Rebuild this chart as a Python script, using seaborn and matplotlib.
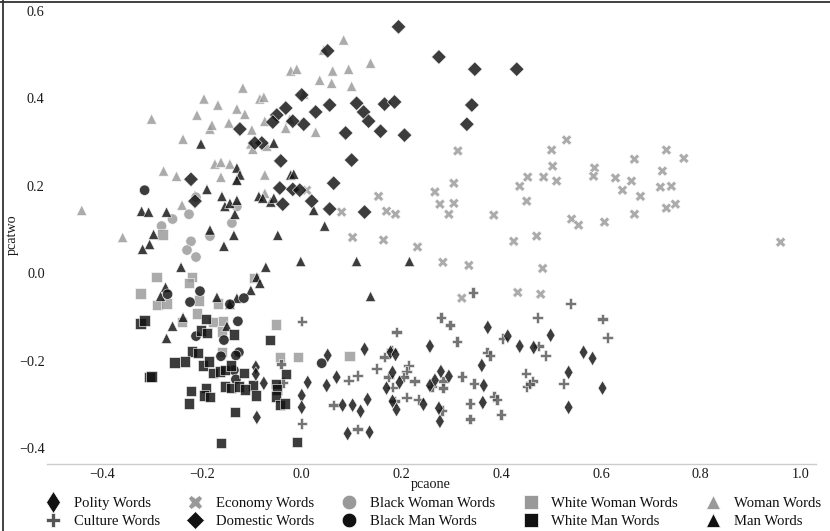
import matplotlib
matplotlib.use("Agg")
import matplotlib.pyplot as plt
from matplotlib.lines import Line2D
import numpy as np
import pandas as pd
import seaborn as sns

# ---------------- data ----------------
group_names = ["Polity Words", "Culture Words", "Economy Words", "Domestic Words",
               "Black Woman Words", "Black Man Words", "White Woman Words",
               "White Man Words", "Woman Words", "Man Words"]

polity_x = [0.052, 0.126, 0.012, 0.050, 0.070, 0.000, 0.000, 0.082, 0.102, 0.118, 0.132, 0.092,
            0.136, 0.178, 0.188, 0.182, 0.170, 0.196, 0.190, 0.182, 0.257, 0.279, 0.267, 0.295,
            0.257, 0.244, 0.277, 0.275, 0.373, 0.413, 0.437, 0.465, 0.499, 0.361, 0.365, 0.363,
            0.565, 0.583, 0.535, 0.603, 0.535, -0.092, -0.092, -0.076, -0.090]
polity_y = [-0.188, -0.174, -0.250, -0.257, -0.238, -0.280, -0.307, -0.302, -0.302, -0.316, -0.289,
            -0.367, -0.364, -0.181, -0.186, -0.227, -0.263, -0.250, -0.312, -0.293, -0.167, -0.225,
            -0.245, -0.236, -0.257, -0.300, -0.339, -0.309, -0.124, -0.144, -0.167, -0.170, -0.142,
            -0.211, -0.257, -0.296, -0.181, -0.195, -0.227, -0.263, -0.307, -0.215, -0.231, -0.252,
            -0.330]

culture_x = [0.000, 0.190, 0.279, 0.297, 0.311, 0.343, 0.166, 0.180, 0.150, 0.112, 0.094, 0.064,
             0.112, 0.000, 0.174, 0.214, 0.210, 0.204, 0.182, 0.226, 0.210, 0.234, 0.186, 0.283,
             0.283, 0.261, 0.321, 0.345, 0.337, 0.337, 0.281, -0.042, -0.038, 0.539, 0.473, 0.603,
             0.613, 0.403, 0.371, 0.377, 0.475, 0.489, 0.449, 0.451, 0.463, 0.457, 0.525, 0.385,
             0.391, 0.399]
culture_y = [-0.110, -0.135, -0.101, -0.119, -0.156, -0.044, -0.192, -0.176, -0.218, -0.234, -0.245,
             -0.302, -0.357, -0.344, -0.238, -0.211, -0.225, -0.238, -0.261, -0.247, -0.284, -0.289,
             -0.293, -0.247, -0.263, -0.259, -0.236, -0.252, -0.298, -0.334, -0.314, -0.208, -0.250,
             -0.069, -0.101, -0.105, -0.147, -0.149, -0.181, -0.188, -0.167, -0.188, -0.229, -0.259,
             -0.247, -0.254, -0.252, -0.282, -0.289, -0.323]

economy_x = [0.010, 0.080, 0.102, 0.154, 0.170, 0.188, 0.164, 0.232, 0.267, 0.277, 0.295, 0.305,
             0.305, 0.313, 0.385, 0.425, 0.471, 0.437, 0.453, 0.485, 0.451, 0.501, 0.531, 0.503,
             0.511, 0.541, 0.555, 0.607, 0.587, 0.585, 0.629, 0.661, 0.643, 0.667, 0.679, 0.667,
             0.731, 0.766, 0.723, 0.719, 0.741, 0.731, 0.749, 0.960, 0.483, 0.433, 0.479, 0.283,
             0.335, 0.321]
economy_y = [0.190, 0.140, 0.082, 0.176, 0.142, 0.135, 0.076, 0.060, 0.186, 0.158, 0.135, 0.206,
             0.160, 0.280, 0.133, 0.073, 0.085, 0.199, 0.220, 0.220, 0.165, 0.282, 0.305, 0.245,
             0.211, 0.124, 0.110, 0.117, 0.241, 0.222, 0.218, 0.211, 0.190, 0.261, 0.176, 0.135,
             0.282, 0.263, 0.234, 0.197, 0.199, 0.149, 0.158, 0.071, 0.011, -0.044, -0.048, 0.025,
             0.018, -0.057]

domestic_x = [0.194, 0.275, 0.347, 0.431, 0.341, 0.331, 0.052, 0.000, 0.056, 0.110, 0.124, 0.134,
              0.166, 0.186, 0.158, 0.206, 0.088, 0.028, 0.004, -0.018, -0.032, -0.050, -0.058,
              -0.124, -0.080, -0.094, 0.100, -0.042, 0.064, -0.044, -0.018, -0.004, -0.038, 0.020,
              0.056, 0.126, -0.222, -0.214]
domestic_y = [0.564, 0.495, 0.467, 0.467, 0.385, 0.341, 0.509, 0.408, 0.385, 0.389, 0.369, 0.348,
              0.387, 0.392, 0.325, 0.316, 0.321, 0.369, 0.341, 0.348, 0.378, 0.362, 0.346, 0.330,
              0.298, 0.298, 0.259, 0.257, 0.206, 0.195, 0.192, 0.190, 0.158, 0.165, 0.147, 0.140,
              0.215, 0.165]

black_woman_x = [-0.212, -0.226, -0.259, -0.281, -0.130, -0.140, -0.184, -0.222, -0.230, -0.212]
black_woman_y = [0.174, 0.135, 0.124, 0.108, 0.153, 0.115, 0.085, 0.073, 0.053, 0.037]

black_man_x = [-0.315, -0.269, -0.204, -0.224, -0.116, -0.128, -0.212, -0.156, -0.126, -0.132,
               -0.162, -0.136, -0.132, 0.040, -0.144]
black_man_y = [0.190, -0.048, -0.041, -0.066, -0.057, -0.110, -0.144, -0.153, -0.181, -0.188,
               -0.190, -0.222, -0.243, -0.206, -0.071]

white_woman_x = [-0.279, -0.291, -0.220, -0.226, -0.096, -0.323, -0.289, -0.271, -0.206, -0.168,
                 -0.210, -0.240, -0.178, -0.158, -0.160, -0.052, -0.160, -0.044, -0.008, 0.096]
white_woman_y = [0.089, -0.009, -0.009, -0.023, -0.011, -0.046, -0.073, -0.069, -0.062, -0.069,
                 -0.092, -0.112, -0.112, -0.110, -0.133, -0.117, -0.181, -0.192, -0.192, -0.190]

white_man_x = [-0.323, -0.315, -0.192, -0.202, -0.190, -0.136, -0.064, -0.220, -0.208, -0.255,
               -0.234, -0.198, -0.186, -0.178, -0.164, -0.154, -0.142, -0.116, -0.098, -0.154,
               -0.142, -0.126, -0.114, -0.092, -0.192, -0.222, -0.196, -0.184, -0.226, -0.305,
               -0.301, -0.134, -0.162, -0.052, -0.050, -0.052, -0.044, -0.034, -0.032, -0.010]
white_man_y = [-0.115, -0.108, -0.105, -0.131, -0.137, -0.140, -0.153, -0.179, -0.183, -0.204,
               -0.202, -0.211, -0.202, -0.229, -0.225, -0.222, -0.211, -0.229, -0.257, -0.259,
               -0.263, -0.259, -0.266, -0.280, -0.263, -0.270, -0.280, -0.284, -0.298, -0.238,
               -0.236, -0.318, -0.389, -0.254, -0.266, -0.282, -0.302, -0.298, -0.231, -0.387]

woman_x = [0.084, 0.044, -0.022, -0.010, 0.062, 0.094, 0.138, 0.036, 0.060, 0.100, -0.118, -0.196,
           -0.168, -0.130, -0.114, -0.084, -0.076, 0.004, -0.184, -0.180, -0.146, -0.100, -0.074,
           -0.024, -0.032, 0.028, -0.102, -0.098, -0.070, -0.174, -0.162, -0.144, -0.130, -0.162,
           -0.074, -0.074, -0.301, -0.210, -0.238, -0.277, -0.251, -0.214, -0.240, -0.441, -0.359]
woman_y = [0.534, 0.511, 0.463, 0.467, 0.463, 0.467, 0.481, 0.442, 0.435, 0.428, 0.424, 0.399,
           0.385, 0.376, 0.364, 0.399, 0.403, 0.410, 0.330, 0.339, 0.344, 0.328, 0.348, 0.353,
           0.332, 0.323, 0.296, 0.284, 0.291, 0.250, 0.254, 0.250, 0.215, 0.220, 0.225, 0.183,
           0.353, 0.362, 0.307, 0.234, 0.222, 0.179, 0.156, 0.144, 0.082]

man_x = [-0.202, -0.056, -0.130, -0.124, -0.130, -0.190, -0.160, -0.154, -0.144, -0.130, -0.134,
         -0.184, -0.136, -0.156, -0.048, -0.086, -0.078, -0.062, -0.056, -0.022, -0.016, 0.024,
         0.046, -0.321, -0.307, -0.271, -0.297, -0.305, -0.319, -0.242, -0.072, -0.002, -0.273,
         -0.283, -0.170, -0.130, -0.144, -0.090, -0.084, -0.102, -0.238, -0.259, -0.271, -0.150,
         0.110, 0.216, 0.138]
man_y = [0.296, 0.298, 0.241, 0.225, 0.213, 0.192, 0.176, 0.153, 0.160, 0.167, 0.135, 0.099,
         0.087, 0.062, 0.087, 0.176, 0.172, 0.163, 0.172, 0.225, 0.227, 0.144, 0.108, 0.142,
         0.140, 0.140, 0.089, 0.066, 0.055, 0.014, 0.014, 0.027, -0.032, -0.053, -0.055, -0.057,
         -0.071, -0.009, -0.023, -0.039, -0.101, -0.121, -0.149, -0.121, 0.027, 0.027, -0.053]

# drawing order (later groups drawn on top)
draw_order = ["Woman Words", "Black Woman Words", "White Woman Words", "Economy Words",
              "Culture Words", "Man Words", "Black Man Words", "White Man Words",
              "Polity Words", "Domestic Words"]

series = {
    "Polity Words": (polity_x, polity_y),
    "Culture Words": (culture_x, culture_y),
    "Economy Words": (economy_x, economy_y),
    "Domestic Words": (domestic_x, domestic_y),
    "Black Woman Words": (black_woman_x, black_woman_y),
    "Black Man Words": (black_man_x, black_man_y),
    "White Woman Words": (white_woman_x, white_woman_y),
    "White Man Words": (white_man_x, white_man_y),
    "Woman Words": (woman_x, woman_y),
    "Man Words": (man_x, man_y),
}

colors = {
    "Polity Words": "#111111", "Culture Words": "#555555", "Economy Words": "#999999",
    "Domestic Words": "#111111", "Black Woman Words": "#999999", "Black Man Words": "#111111",
    "White Woman Words": "#999999", "White Man Words": "#111111", "Woman Words": "#999999",
    "Man Words": "#111111",
}
markers = {
    "Polity Words": "d", "Culture Words": "P", "Economy Words": "X", "Domestic Words": "D",
    "Black Woman Words": "o", "Black Man Words": "o", "White Woman Words": "s",
    "White Man Words": "s", "Woman Words": "^", "Man Words": "^",
}

rows = []
for g in draw_order:
    xs, ys = series[g]
    for xv, yv in zip(xs, ys):
        rows.append((xv, yv, g))
df = pd.DataFrame(rows, columns=["pcaone", "pcatwo", "group"])

# ---------------- figure ----------------
sns.set_theme(style="white")
plt.rcParams["font.family"] = ["Liberation Serif", "DejaVu Serif"]

fig = plt.figure(figsize=(8.30, 5.31), dpi=100)
ax = fig.add_axes([0.0564, 0.1262, 0.9262, 0.8625])

sns.scatterplot(data=df, x="pcaone", y="pcatwo", hue="group", style="group",
                hue_order=group_names, style_order=group_names,
                palette=colors, markers=markers, s=56, alpha=0.82,
                edgecolor="white", linewidth=0.5, legend=False, ax=ax)

for side in ["left", "top", "right"]:
    ax.spines[side].set_visible(False)
ax.spines["bottom"].set_color("#cccccc")
ax.spines["bottom"].set_linewidth(1.0)
ax.tick_params(axis="both", length=0, labelsize=10.3, colors="#1a1a1a")
ax.tick_params(axis="y", pad=1.5)
ax.tick_params(axis="x", pad=3)
ax.set_xticks([-0.4, -0.2, 0.0, 0.2, 0.4, 0.6, 0.8, 1.0])
ax.set_yticks([-0.4, -0.2, 0.0, 0.2, 0.4, 0.6])
ax.set_xlabel("pcaone", fontsize=10.3, color="#1a1a1a", labelpad=-2)
ax.set_ylabel("pcatwo", fontsize=10.3, color="#1a1a1a", labelpad=0)
ax.grid(False)

handles = [Line2D([], [], linestyle="none", marker=markers[g], color=colors[g],
                  markeredgecolor="white", markeredgewidth=0.5,
                  markersize=(11.5 if markers[g] == "d" else 9 if markers[g] == "D" else 10.5))
           for g in group_names]
fig.legend(handles, group_names, ncol=5, loc="center",
           bbox_to_anchor=(0.5195, 1 - 512.5 / 531), frameon=False, fontsize=10.6,
           columnspacing=1.6, handletextpad=0.6, handlelength=1.6, labelspacing=0.3,
           borderaxespad=0, labelcolor="#111111")

# thin frame lines along the top and left edge of the image
fig.add_artist(Line2D([0, 1], [0.9955, 0.9955], transform=fig.transFigure,
                      color="#333333", linewidth=1.3))
fig.add_artist(Line2D([0.0035, 0.0035], [0, 1], transform=fig.transFigure,
                      color="#333333", linewidth=1.3))

fig.savefig("out.png", dpi=100)
